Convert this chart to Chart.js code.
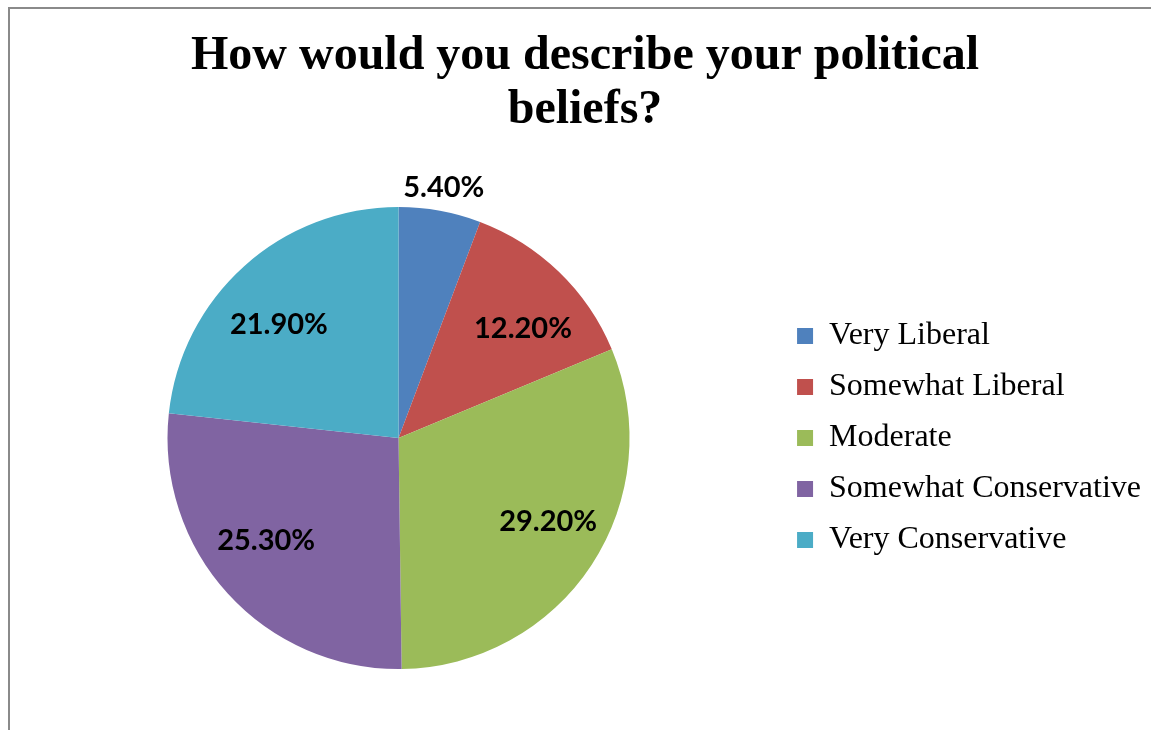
<!DOCTYPE html>
<html>
<head>
<meta charset="utf-8">
<script src="https://cdn.jsdelivr.net/npm/chart.js@4/dist/chart.umd.min.js"></script>
<style>
	html, body { margin: 0; padding: 0; background: #fff; }
	#wrap { position: relative; width: 1151px; height: 730px; }
	#chart { position: absolute; left: 0; top: 0; }
	#frame {
		position: absolute; left: 8px; top: 7px; width: 1143px; height: 723px;
		border-left: 2px solid #8a8a8a; border-top: 2px solid #8a8a8a;
		box-sizing: border-box; pointer-events: none;
	}
</style>
</head>
<body>
<div id="wrap">
	<canvas id="chart" width="1151" height="730"></canvas>
	<div id="frame"></div>
</div>
<script>
const labels = [
	'Very Liberal',
	'Somewhat Liberal',
	'Moderate',
	'Somewhat Conservative',
	'Very Conservative'
];
const values = [5.4, 12.2, 29.2, 25.3, 21.9];
const sliceColors = ['#4f81bd', '#c0504d', '#9bbb59', '#8064a2', '#4bacc6'];
const titleLines = ['How would you describe your political', 'beliefs?'];

// Etiquetas de porcentaje sobre cada sector
const sliceLabels = {
	id: 'sliceLabels',
	afterDatasetsDraw(chart) {
		const ctx = chart.ctx;
		const meta = chart.getDatasetMeta(0);
		ctx.save();
		ctx.font = 'bold 29px Lato, "Open Sans", sans-serif';
		ctx.fillStyle = '#000';
		ctx.textAlign = 'center';
		ctx.textBaseline = 'middle';
		meta.data.forEach((arc, i) => {
			const p = arc.getProps(['x', 'y', 'startAngle', 'endAngle', 'outerRadius'], true);
			const mid = (p.startAngle + p.endAngle) / 2;
			const span = p.endAngle - p.startAngle;
			// sectores pequeños: etiqueta por fuera
			const rx = span < 0.45 ? p.outerRadius * 1.09 : p.outerRadius * 0.775;
			const ry = span < 0.45 ? p.outerRadius * 1.1 : p.outerRadius * 0.66;
			ctx.fillText(values[i].toFixed(2) + '%', p.x + Math.cos(mid) * rx, p.y + Math.sin(mid) * ry);
		});
		ctx.restore();
	}
};

const canvas = document.getElementById('chart');

new Chart(canvas, {
	type: 'pie',
	data: {
		labels: labels,
		datasets: [{
			data: values,
			backgroundColor: sliceColors,
			borderWidth: 0
		}]
	},
	options: {
		responsive: false,
		animation: false,
		layout: { padding: { left: 19, right: 0, top: 0, bottom: 61 } },
		plugins: {
			tooltip: { enabled: false },
			title: {
				display: true,
				text: titleLines,
				color: '#000',
				font: { family: '"Liberation Serif", "Times New Roman", serif', size: 48, weight: 'bold', lineHeight: 1.125 },
				padding: { top: 29.5, bottom: 69.5 }
			},
			legend: {
				position: 'right',
				fullSize: false,
				labels: {
					boxWidth: 16,
					boxHeight: 16,
					padding: 19,
					color: '#000',
					font: { family: '"Liberation Serif", "Times New Roman", serif', size: 32 }
				}
			}
		}
	},
	plugins: [sliceLabels]
});
</script>
</body>
</html>
